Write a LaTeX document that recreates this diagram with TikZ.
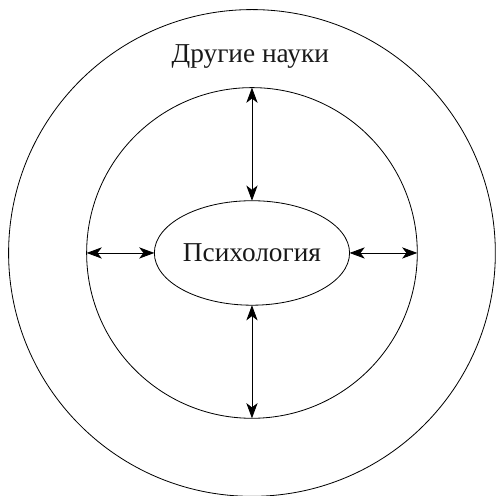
\documentclass[tikz,border=0pt]{standalone}
\usepackage{fontspec}
\setmainfont{Liberation Serif}
\usetikzlibrary{shapes.geometric,arrows.meta}
\begin{document}
\begin{tikzpicture}[line width=0.7pt, >={Stealth[length=0.46cm,width=0.34cm,inset=0.13cm]},
	ring/.style={draw, circle, inner sep=0pt, outer sep=0pt},
	label/.style={font=\fontsize{23.5}{28}\selectfont, text=black!90}]
	\useasboundingbox (-7.62,-7.35) rectangle (7.38,7.65);
	\node[ring, minimum size=14.72cm] (outer) at (0,0) {};
	\node[ring, minimum size=10cm] (inner) at (0,0) {};
	\node[draw, ellipse, inner sep=0pt, outer sep=0pt, minimum width=5.88cm, minimum height=3.16cm, label] (psy) at (0,0) {Психология};
	\node[label] (others) at (-0.05,5.94) {Другие науки};
	\draw[<->] (inner.north)--(psy.north);
	\draw[<->] (psy.south)--(inner.south);
	\draw[<->] (inner.west)--(psy.west);
	\draw[<->] (psy.east)--(inner.east);
\end{tikzpicture}
\end{document}
